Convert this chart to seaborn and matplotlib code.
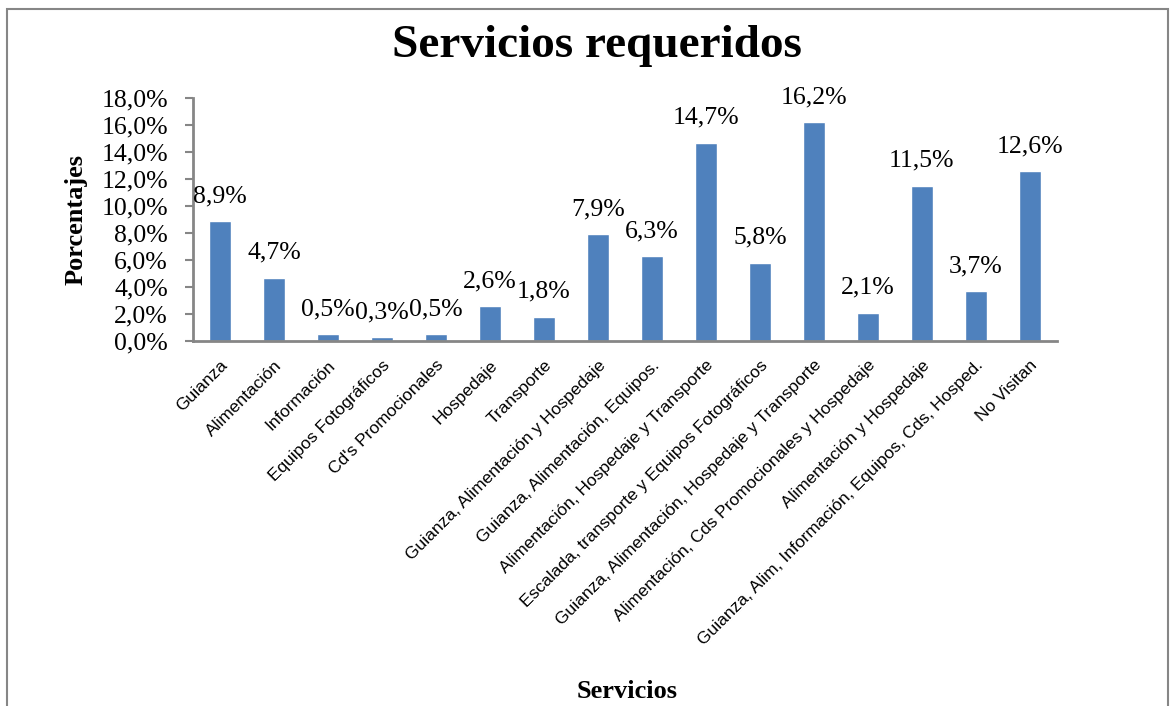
import matplotlib
matplotlib.use("Agg")
import matplotlib.pyplot as plt
import seaborn as sns
import pandas as pd
import numpy as np
from matplotlib.patches import Rectangle

servicios = [
    "Guianza",
    "Alimentación",
    "Información",
    "Equipos Fotográficos",
    "Cd's Promocionales",
    "Hospedaje",
    "Transporte",
    "Guianza, Alimentación y Hospedaje",
    "Guianza, Alimentación, Equipos.",
    "Alimentación, Hospedaje y Transporte",
    "Escalada, transporte y Equipos Fotográficos",
    "Guianza, Alimentación, Hospedaje y Transporte",
    "Alimentación, Cds Promocionales y Hospedaje",
    "Alimentación y Hospedaje",
    "Guianza, Alim, Información, Equipos, Cds, Hosped.",
    "No Visitan",
]
porcentajes = [8.9, 4.7, 0.5, 0.3, 0.5, 2.6, 1.8, 7.9, 6.3, 14.7, 5.8, 16.2, 2.1, 11.5, 3.7, 12.6]
yticks = [0, 2, 4, 6, 8, 10, 12, 14, 16, 18]

df = pd.DataFrame({"Servicios": servicios, "Porcentajes": porcentajes})

sns.set_style("white")
plt.rcParams["text.color"] = "black"
plt.rcParams["axes.labelcolor"] = "black"
plt.rcParams["xtick.color"] = "black"
plt.rcParams["ytick.color"] = "black"
serif = ["Liberation Serif", "DejaVu Serif"]
sans = ["Liberation Sans", "DejaVu Sans"]

fig = plt.figure(figsize=(11.72, 7.06), dpi=100)
ax = fig.add_axes([0.1647, 0.517, 0.737, 0.344])

sns.barplot(data=df, x="Servicios", y="Porcentajes", color="#4F81BD",
            width=0.4, saturation=1, ax=ax)

for i, v in enumerate(porcentajes):
    ax.annotate(f"{v:.1f}%".replace(".", ","), (i, v), xytext=(0, 10),
                textcoords="offset points", ha="center", va="bottom",
                fontsize=18.5, family=serif)

ax.set_ylim(0, 18)
ax.set_xlim(-0.5, len(servicios) - 0.5)
ax.set_yticks(yticks)
ax.set_yticklabels([f"{t:.1f}%".replace(".", ",") for t in yticks],
                   fontsize=18.5, family=serif)
ax.set_xticks(range(len(servicios)))
ax.set_xticklabels(servicios, rotation=45, ha="right", rotation_mode="anchor",
                   fontsize=12.5, family=sans)
ax.tick_params(axis="y", direction="out", length=6, width=1.5, colors="black",
               left=True, pad=12)
ax.tick_params(axis="y", color="#868686")
ax.tick_params(axis="x", length=0, pad=12)

for s in ["top", "right"]:
    ax.spines[s].set_visible(False)
for s in ["left", "bottom"]:
    ax.spines[s].set_color("#868686")
    ax.spines[s].set_linewidth(2)

ax.set_xlabel("")
ax.set_ylabel("Porcentajes", fontsize=19, fontweight="bold", family=serif, labelpad=10)

fig.text(0.509, 0.935, "Servicios requeridos", ha="center", va="center",
         fontsize=34, fontweight="bold", family=serif)
fig.text(0.535, 0.02, "Servicios", ha="center", va="center",
         fontsize=19, fontweight="bold", family=serif)

fig.patches.append(Rectangle((0.006, -0.01), 0.991, 0.997, transform=fig.transFigure,
                             fill=False, edgecolor="#868686", linewidth=1.5))

fig.savefig("out.png", dpi=100)
